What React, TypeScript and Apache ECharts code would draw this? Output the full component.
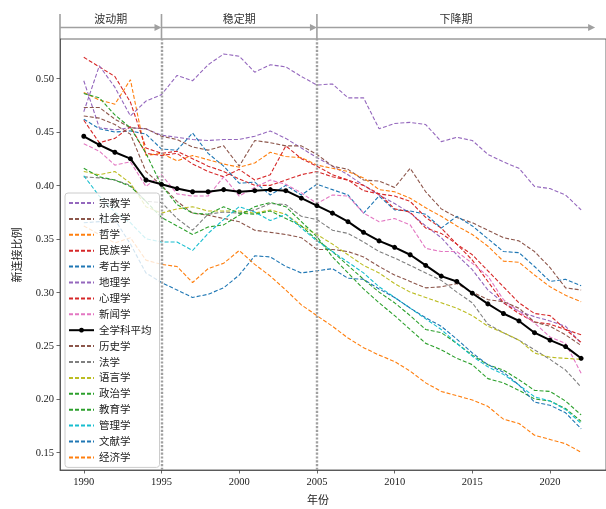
import React, { useEffect, useRef } from "react";
import * as echarts from "echarts";

const years = [1990, 1991, 1992, 1993, 1994, 1995, 1996, 1997, 1998, 1999, 2000, 2001, 2002, 2003, 2004, 2005, 2006, 2007, 2008, 2009, 2010, 2011, 2012, 2013, 2014, 2015, 2016, 2017, 2018, 2019, 2020, 2021, 2022];

const zongjiao = [0.498, 0.454, 0.452, 0.454, 0.453, 0.447, 0.445, 0.443, 0.442, 0.443, 0.443, 0.446, 0.451, 0.444, 0.435, 0.426, 0.418, 0.410, 0.400, 0.391, 0.383, 0.374, 0.362, 0.351, 0.335, 0.321, 0.302, 0.290, 0.282, 0.277, 0.273, 0.268, 0.252];
const shehui = [0.473, 0.473, 0.462, 0.454, 0.453, 0.446, 0.443, 0.436, 0.433, 0.437, 0.418, 0.442, 0.440, 0.437, 0.437, 0.429, 0.418, 0.415, 0.405, 0.404, 0.398, 0.416, 0.394, 0.378, 0.370, 0.365, 0.358, 0.351, 0.348, 0.338, 0.323, 0.304, 0.302];
const zhexue = [0.487, 0.480, 0.476, 0.499, 0.428, 0.430, 0.423, 0.428, 0.424, 0.420, 0.417, 0.421, 0.431, 0.427, 0.426, 0.419, 0.416, 0.413, 0.407, 0.396, 0.394, 0.388, 0.379, 0.371, 0.362, 0.354, 0.343, 0.329, 0.328, 0.316, 0.305, 0.297, 0.291];
const minzu = [0.520, 0.511, 0.502, 0.478, 0.435, 0.430, 0.432, 0.425, 0.418, 0.413, 0.406, 0.400, 0.400, 0.405, 0.410, 0.413, 0.408, 0.405, 0.400, 0.392, 0.390, 0.385, 0.370, 0.360, 0.345, 0.335, 0.320, 0.305, 0.290, 0.280, 0.278, 0.265, 0.260];
const kaogu = [0.462, 0.453, 0.450, 0.451, 0.448, 0.434, 0.433, 0.449, 0.430, 0.418, 0.402, 0.403, 0.391, 0.400, 0.391, 0.401, 0.396, 0.391, 0.374, 0.390, 0.377, 0.376, 0.373, 0.360, 0.371, 0.362, 0.350, 0.338, 0.337, 0.324, 0.310, 0.312, 0.306];
const dili = [0.469, 0.512, 0.492, 0.465, 0.479, 0.485, 0.503, 0.498, 0.513, 0.523, 0.521, 0.506, 0.513, 0.511, 0.502, 0.494, 0.495, 0.482, 0.482, 0.453, 0.458, 0.459, 0.457, 0.441, 0.445, 0.442, 0.429, 0.422, 0.416, 0.399, 0.397, 0.391, 0.377];
const xinli = [0.461, 0.440, 0.444, 0.455, 0.430, 0.428, 0.430, 0.420, 0.413, 0.408, 0.415, 0.405, 0.410, 0.437, 0.425, 0.418, 0.410, 0.405, 0.395, 0.392, 0.378, 0.375, 0.360, 0.355, 0.345, 0.330, 0.310, 0.290, 0.280, 0.272, 0.270, 0.265, 0.253];
const xinwen = [0.439, 0.432, 0.419, 0.422, 0.399, 0.410, 0.392, 0.390, 0.390, 0.408, 0.390, 0.398, 0.405, 0.401, 0.393, 0.383, 0.391, 0.390, 0.374, 0.366, 0.369, 0.363, 0.341, 0.338, 0.338, 0.327, 0.315, 0.293, 0.282, 0.271, 0.258, 0.252, 0.224];
const average = [0.446, 0.438, 0.431, 0.425, 0.405, 0.401, 0.397, 0.394, 0.394, 0.396, 0.394, 0.395, 0.396, 0.395, 0.388, 0.381, 0.374, 0.366, 0.356, 0.348, 0.342, 0.335, 0.325, 0.315, 0.310, 0.299, 0.289, 0.280, 0.273, 0.262, 0.255, 0.249, 0.238];
const lishi = [0.465, 0.463, 0.457, 0.448, 0.413, 0.400, 0.385, 0.374, 0.372, 0.369, 0.366, 0.358, 0.356, 0.354, 0.351, 0.340, 0.340, 0.338, 0.333, 0.324, 0.316, 0.310, 0.304, 0.305, 0.308, 0.300, 0.293, 0.291, 0.285, 0.272, 0.268, 0.260, 0.250];
const faxue = [0.408, 0.407, 0.405, 0.400, 0.385, 0.384, 0.369, 0.358, 0.373, 0.375, 0.374, 0.377, 0.383, 0.382, 0.371, 0.368, 0.358, 0.355, 0.347, 0.338, 0.332, 0.325, 0.318, 0.311, 0.300, 0.290, 0.270, 0.262, 0.255, 0.246, 0.237, 0.227, 0.211];
const yuyan = [0.413, 0.410, 0.413, 0.402, 0.380, 0.374, 0.378, 0.380, 0.376, 0.376, 0.376, 0.374, 0.377, 0.373, 0.362, 0.354, 0.345, 0.335, 0.325, 0.318, 0.308, 0.300, 0.295, 0.290, 0.285, 0.278, 0.268, 0.262, 0.255, 0.243, 0.239, 0.238, 0.237];
const zhengzhi = [0.486, 0.482, 0.466, 0.454, 0.430, 0.400, 0.382, 0.374, 0.373, 0.380, 0.374, 0.373, 0.376, 0.369, 0.362, 0.349, 0.338, 0.325, 0.312, 0.300, 0.290, 0.278, 0.265, 0.262, 0.252, 0.241, 0.232, 0.227, 0.218, 0.208, 0.207, 0.198, 0.185];
const jiaoyu = [0.416, 0.408, 0.405, 0.399, 0.385, 0.370, 0.362, 0.354, 0.361, 0.363, 0.372, 0.380, 0.384, 0.380, 0.366, 0.352, 0.333, 0.318, 0.303, 0.290, 0.278, 0.265, 0.252, 0.246, 0.238, 0.232, 0.219, 0.215, 0.208, 0.200, 0.198, 0.191, 0.179];
const guanli = [0.409, 0.390, 0.375, 0.365, 0.350, 0.347, 0.347, 0.339, 0.355, 0.368, 0.380, 0.375, 0.367, 0.373, 0.360, 0.348, 0.338, 0.328, 0.318, 0.305, 0.295, 0.285, 0.275, 0.265, 0.252, 0.240, 0.230, 0.223, 0.213, 0.202, 0.198, 0.190, 0.177];
const wenxian = [0.365, 0.366, 0.368, 0.345, 0.318, 0.309, 0.302, 0.295, 0.298, 0.304, 0.316, 0.334, 0.333, 0.324, 0.318, 0.320, 0.322, 0.313, 0.312, 0.303, 0.295, 0.285, 0.276, 0.268, 0.256, 0.243, 0.232, 0.225, 0.213, 0.197, 0.194, 0.187, 0.172];
const jingji = [0.362, 0.354, 0.346, 0.351, 0.330, 0.326, 0.324, 0.309, 0.322, 0.327, 0.339, 0.326, 0.315, 0.302, 0.288, 0.278, 0.268, 0.257, 0.248, 0.241, 0.235, 0.226, 0.215, 0.207, 0.203, 0.199, 0.193, 0.181, 0.177, 0.166, 0.162, 0.158, 0.150];

const xTicks = [1990, 1995, 2000, 2005, 2010, 2015, 2020];
const yTicks = [0.15, 0.2, 0.25, 0.3, 0.35, 0.4, 0.45, 0.5];
const periodBreaks = [1995, 2005];
const periodLabels = ["波动期", "稳定期", "下降期"];

const C = {
  blue: "#1f77b4", orange: "#ff7f0e", green: "#2ca02c", red: "#d62728", purple: "#9467bd",
  brown: "#8c564b", pink: "#e377c2", gray: "#7f7f7f", olive: "#bcbd22", cyan: "#17becf",
};

const AVG_NAME = "全学科平均";
const seriesDefs: [string, number[], string][] = [
  ["宗教学", zongjiao, C.purple],
  ["社会学", shehui, C.brown],
  ["哲学", zhexue, C.orange],
  ["民族学", minzu, C.red],
  ["考古学", kaogu, C.blue],
  ["地理学", dili, C.purple],
  ["心理学", xinli, C.red],
  ["新闻学", xinwen, C.pink],
  [AVG_NAME, average, "#000000"],
  ["历史学", lishi, C.brown],
  ["法学", faxue, C.gray],
  ["语言学", yuyan, C.olive],
  ["政治学", zhengzhi, C.green],
  ["教育学", jiaoyu, C.green],
  ["管理学", guanli, C.cyan],
  ["文献学", wenxian, C.blue],
  ["经济学", jingji, C.orange],
];

const FONT = "'Liberation Serif', 'Noto Sans CJK SC', serif";
const X_MIN = 1988.47;
const X_MAX = 2023.6;
const Y_MIN = 0.1334;
const Y_MAX = 0.5371;

export default function App() {
  const ref = useRef<HTMLDivElement>(null);
  useEffect(() => {
    const chart = echarts.init(ref.current!, null, { renderer: "svg" });
    const series: any[] = seriesDefs.map(([name, vals, color]) => {
      const isAvg = name === AVG_NAME;
      const s: any = {
        type: "line",
        name,
        data: years.map((y, i) => [y, vals[i]]),
        symbol: isAvg ? "circle" : "none",
        symbolSize: isAvg ? 5 : 0,
        showSymbol: isAvg,
        lineStyle: isAvg ? { color, width: 2 } : { color, width: 1.1, type: [4, 2] },
        itemStyle: { color },
        z: isAvg ? 5 : 2,
        silent: true,
      };
      if (isAvg) {
        s.markLine = {
          silent: true,
          symbol: "none",
          label: { show: false },
          lineStyle: { color: "#a0a0a0", type: [2.2, 1.6], width: 2.4 },
          data: periodBreaks.map((b) => ({ xAxis: b })),
        };
      }
      return s;
    });

    chart.setOption({
      animation: false,
      grid: { left: 60, right: -6, top: 39, bottom: 39, show: true, borderColor: "#444", borderWidth: 0.8, backgroundColor: "transparent" },
      xAxis: {
        type: "value",
        min: X_MIN,
        max: X_MAX,
        splitLine: { show: false },
        axisLine: { lineStyle: { color: "#444", width: 0.8 } },
        axisTick: { show: true, length: 3.5, customValues: xTicks, lineStyle: { color: "#444", width: 0.8 } },
        axisLabel: { customValues: xTicks, color: "#222", fontFamily: FONT, fontSize: 10.5, margin: 6, formatter: (v: number) => String(v) },
      },
      yAxis: {
        type: "value",
        min: Y_MIN,
        max: Y_MAX,
        splitLine: { show: false },
        axisLine: { show: true, lineStyle: { color: "#444", width: 0.8 } },
        axisTick: { show: true, length: 3.5, customValues: yTicks, lineStyle: { color: "#444", width: 0.8 } },
        axisLabel: { customValues: yTicks, color: "#222", fontFamily: FONT, fontSize: 10.5, margin: 6, formatter: (v: number) => v.toFixed(2) },
      },
      legend: {
        orient: "vertical",
        left: 65,
        top: 193,
        padding: [4, 8, 4, 3],
        itemGap: 3.9,
        itemWidth: 25,
        itemHeight: 6,
        backgroundColor: "rgba(255,255,255,0.8)",
        borderColor: "#cccccc",
        borderWidth: 1,
        borderRadius: 3,
        textStyle: { fontFamily: FONT, fontSize: 10.5, color: "#222", lineHeight: 12, height: 12 },
        data: seriesDefs.map(([n]) => (n === AVG_NAME ? { name: n } : { name: n, itemStyle: { opacity: 0, borderWidth: 0 } })),
      },
      series,
    });

    const px = (x: number) => chart.convertToPixel({ xAxisIndex: 0 }, x) as number;
    const x0 = px(X_MIN);
    const x1 = px(periodBreaks[0]);
    const x2 = px(periodBreaks[1]);
    const x3 = px(2022.9);
    const ay = 27.5;
    const gcol = "#a0a0a0";
    const arrow = (xs: number, xe: number) => [
      { type: "line", shape: { x1: xs, y1: ay, x2: xe - 5, y2: ay }, style: { stroke: gcol, lineWidth: 1.6 } },
      { type: "polygon", shape: { points: [[xe, ay], [xe - 7, ay - 3.5], [xe - 7, ay + 3.5]] }, style: { fill: gcol } },
    ];
    const vtick = (x: number) => ({ type: "line", shape: { x1: x, y1: 14, x2: x, y2: 39 }, style: { stroke: gcol, lineWidth: 1.6 } });
    const lbl = (x: number, t: string) => ({ type: "text", x, y: 19, style: { text: t, align: "center", verticalAlign: "middle", fontFamily: FONT, fontSize: 11, fill: "#333" } });
    chart.setOption({
      graphic: [
        vtick(x0), vtick(x1), vtick(x2),
        ...arrow(x0, x1), ...arrow(x1, x2), ...arrow(x2, x3),
        lbl((x0 + x1) / 2, periodLabels[0]),
        lbl((x1 + x2) / 2, periodLabels[1]),
        lbl((x2 + x3) / 2, periodLabels[2]),
        { type: "text", x: 17, y: 255, rotation: Math.PI / 2, style: { text: "新连接比例", align: "center", verticalAlign: "middle", fontFamily: FONT, fontSize: 11, fill: "#222" } },
        { type: "text", x: 318, y: 500, style: { text: "年份", align: "center", verticalAlign: "middle", fontFamily: FONT, fontSize: 11, fill: "#222" } },
      ],
    });
    return () => chart.dispose();
  }, []);
  return <div ref={ref} style={{ position: "fixed", left: 0, top: 0, width: 606, height: 509 }} />;
}
